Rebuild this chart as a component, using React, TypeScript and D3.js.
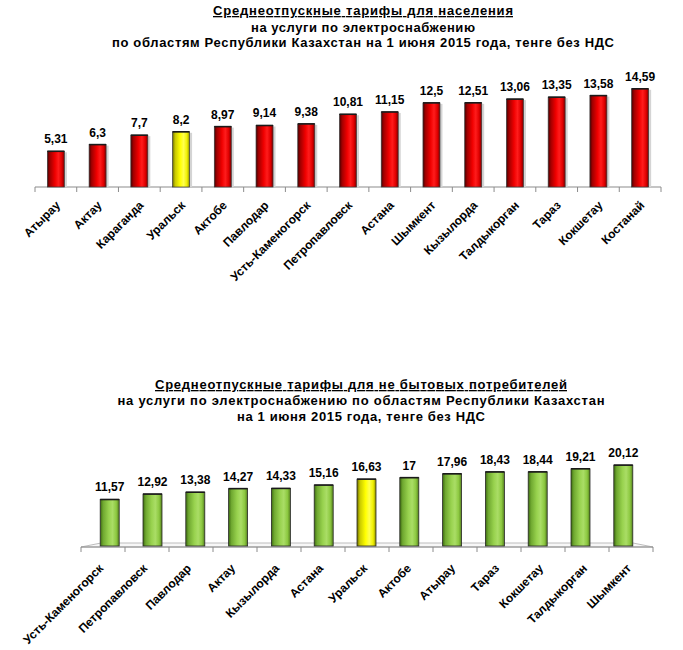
import React from "react";
import * as d3 from "d3";

const topTitle = [
  "Среднеотпускные тарифы для населения",
  "на услуги по электроснабжению",
  "по областям Республики Казахстан на 1 июня 2015 года, тенге без НДС",
];
const topCategories = [
  "Атырау", "Актау", "Караганда", "Уральск", "Актобе", "Павлодар", "Усть-Каменогорск",
  "Петропавловск", "Астана", "Шымкент", "Кызылорда", "Талдыкорган", "Тараз", "Кокшетау", "Костанай",
];
const topValues = [5.31, 6.3, 7.7, 8.2, 8.97, 9.14, 9.38, 10.81, 11.15, 12.5, 12.51, 13.06, 13.35, 13.58, 14.59];

const bottomTitle = [
  "Среднеотпускные тарифы для не бытовых потребителей",
  "на услуги по электроснабжению по областям Республики Казахстан",
  "на 1 июня 2015 года, тенге без НДС",
];
const bottomCategories = [
  "Усть-Каменогорск", "Петропавловск", "Павлодар", "Актау", "Кызылорда", "Астана", "Уральск",
  "Актобе", "Атырау", "Тараз", "Кокшетау", "Талдыкорган", "Шымкент",
];
const bottomValues = [11.57, 12.92, 13.38, 14.27, 14.33, 15.16, 16.63, 17, 17.96, 18.43, 18.44, 19.21, 20.12];

const highlight = "Уральск";

const FONT = "'Liberation Sans', Arial, sans-serif";
const fmt = (v: number) => String(v).replace(".", ",");

function Title({ lines, cx, ys, widths }: { lines: string[]; cx: number; ys: number[]; widths: number[] }) {
  return (
    <g fontFamily={FONT} fontWeight="bold" fontSize={13} fill="#000" textAnchor="middle">
      {lines.map((t, i) => (
        <text key={i} x={cx} y={ys[i]} textLength={widths[i]} lengthAdjust="spacing"
          textDecoration={i === 0 ? "underline" : undefined}>{t}</text>
      ))}
    </g>
  );
}

function Gradients() {
  const mk = (id: string, stops: [number, string][]) => (
    <linearGradient id={id} x1="0" x2="1" y1="0" y2="0">
      {stops.map(([o, c], i) => <stop key={i} offset={o} stopColor={c} />)}
    </linearGradient>
  );
  return (
    <defs>
      {mk("gRed", [[0, "#4a0000"], [0.15, "#a00000"], [0.45, "#f00000"], [0.65, "#ff1c1c"], [0.85, "#e00000"], [1, "#7a0000"]])}
      {mk("gYel", [[0, "#6b6b00"], [0.15, "#c8c800"], [0.45, "#ffff00"], [0.65, "#ffff50"], [0.85, "#f0f000"], [1, "#8f8f00"]])}
      {mk("gGrn", [[0, "#3d6b10"], [0.15, "#6fa830"], [0.45, "#98d24e"], [0.65, "#aadd66"], [0.85, "#8cc840"], [1, "#557f1e"]])}
    </defs>
  );
}

function TopChart() {
  const axisY = 187;
  const xCat = d3.scaleBand<string>().domain(topCategories).range([35, 661]).padding(0);
  const y = d3.scaleLinear().domain([0, 16]).range([axisY, axisY - 16 * 6.73]);
  const barW = 17;
  const bounds = d3.range(topCategories.length + 1).map((i) => 35 + i * xCat.step());
  return (
    <g>
      <line x1={35} x2={661} y1={axisY} y2={axisY} stroke="#8c8c8c" strokeWidth={1.2} />
      {bounds.map((b, i) => (
        <line key={i} x1={b} x2={b} y1={axisY} y2={axisY + 5} stroke="#8c8c8c" strokeWidth={1} />
      ))}
      {topCategories.map((c, i) => {
        const cx = (xCat(c) as number) + xCat.bandwidth() / 2;
        const top = y(topValues[i]);
        const fill = c === highlight ? "url(#gYel)" : "url(#gRed)";
        return (
          <g key={c}>
            <rect x={cx + barW / 2} y={top + 1} width={2.5} height={axisY - top - 1} fill="#d4d4d4" />
            <rect x={cx - barW / 2} y={top} width={barW} height={axisY - top} fill={fill} stroke="#3a3a3a" strokeWidth={0.7} />
            <line x1={cx - barW / 2} x2={cx + barW / 2} y1={top} y2={top} stroke="#1a1a1a" strokeWidth={1.6} />
            <text x={cx} y={top - 8} textAnchor="middle" fontFamily={FONT} fontWeight="bold" fontSize={12}>{fmt(topValues[i])}</text>
            <text transform={`translate(${cx + 5},${axisY + 19}) rotate(-45)`} textAnchor="end"
              fontFamily={FONT} fontWeight="bold" fontSize={12}>{c}</text>
          </g>
        );
      })}
    </g>
  );
}

function BottomChart() {
  const axisY = 547;
  const base = 546;
  const xCat = d3.scaleBand<string>().domain(bottomCategories).range([81, 653]).padding(0);
  const xBar = d3.scalePoint<string>().domain(bottomCategories).range([109.7, 623.3]);
  const y = d3.scaleLinear().domain([0, 22]).range([base, base - 22 * 4.02]);
  const barW = 19;
  const bounds = d3.range(bottomCategories.length + 1).map((i) => 81 + i * xCat.step());
  return (
    <g>
      <polygon points={`81,${axisY} 101,${axisY - 4} 633,${axisY - 4} 653,${axisY}`} fill="#f7f7f7" stroke="#bdbdbd" strokeWidth={1} />
      <line x1={81} x2={653} y1={axisY} y2={axisY} stroke="#8c8c8c" strokeWidth={1.2} />
      {bounds.map((b, i) => (
        <line key={i} x1={b} x2={b} y1={axisY} y2={axisY + 5} stroke="#8c8c8c" strokeWidth={1} />
      ))}
      {bottomCategories.map((c, i) => {
        const bx = xBar(c) as number;
        const cx = (xCat(c) as number) + xCat.bandwidth() / 2;
        const top = y(bottomValues[i]);
        const fill = c === highlight ? "url(#gYel)" : "url(#gGrn)";
        return (
          <g key={c}>
            <rect x={bx - barW / 2} y={top} width={barW} height={base - top} fill={fill} stroke="#2a2a2a" strokeWidth={0.8} />
            <line x1={bx - barW / 2} x2={bx + barW / 2} y1={top} y2={top} stroke="#1a1a1a" strokeWidth={1.6} />
            <text x={bx} y={top - 8} textAnchor="middle" fontFamily={FONT} fontWeight="bold" fontSize={12}>{fmt(bottomValues[i])}</text>
            <text transform={`translate(${cx + 1},${axisY + 22}) rotate(-45)`} textAnchor="end"
              fontFamily={FONT} fontWeight="bold" fontSize={12}>{c}</text>
          </g>
        );
      })}
    </g>
  );
}

export default function App() {
  return (
    <svg width={683} height={650} viewBox="0 0 683 650"
      style={{ position: "absolute", left: 0, top: 0, display: "block", background: "#fff" }}>
      <rect width={683} height={650} fill="#fff" />
      <Gradients />
      <Title lines={topTitle} cx={363} ys={[15, 31.5, 47]} widths={[300, 224, 502]} />
      <TopChart />
      <Title lines={bottomTitle} cx={361} ys={[389, 404.5, 420.5]} widths={[412, 487, 248]} />
      <BottomChart />
    </svg>
  );
}
